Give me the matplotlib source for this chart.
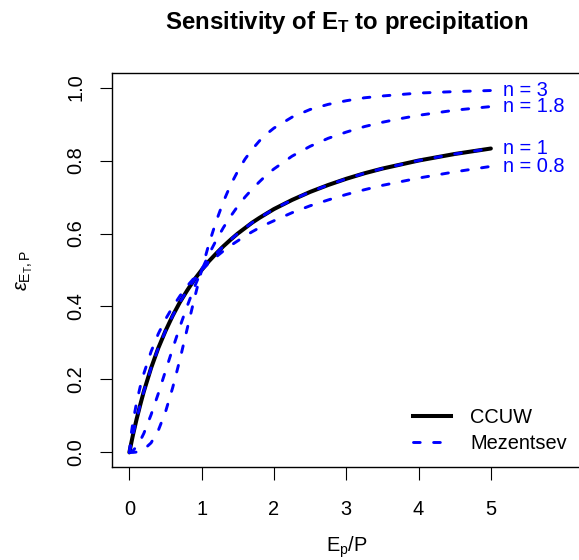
import matplotlib
matplotlib.use("Agg")
import matplotlib.pyplot as plt
from matplotlib.lines import Line2D

plt.rcParams['font.family'] = ['Liberation Sans', 'DejaVu Sans']
plt.rcParams['mathtext.fontset'] = 'custom'
plt.rcParams['mathtext.rm'] = 'Liberation Sans'
plt.rcParams['mathtext.it'] = 'Liberation Sans:italic'
plt.rcParams['mathtext.bf'] = 'Liberation Sans:bold'

# ---------------------------
# DATA
# ---------------------------

ep_p = [0, 0.025, 0.05, 0.1, 0.15, 0.2, 0.3, 0.4, 0.5, 0.6, 0.7, 0.8, 0.9,
        1.0, 1.1, 1.2, 1.3, 1.4, 1.5, 1.6, 1.7, 1.8, 1.9, 2, 2.25, 2.5,
        2.75, 3, 3.25, 3.5, 3.75, 4, 4.5, 5]

eps_ccuw = [0, 0.024, 0.048, 0.091, 0.130, 0.167, 0.231, 0.286, 0.333, 0.375,
            0.412, 0.444, 0.474, 0.500, 0.524, 0.545, 0.565, 0.583, 0.600,
            0.615, 0.630, 0.643, 0.655, 0.667, 0.692, 0.714, 0.733, 0.750,
            0.765, 0.778, 0.789, 0.800, 0.818, 0.833]

eps_n08 = [0, 0.050, 0.083, 0.137, 0.180, 0.216, 0.276, 0.325, 0.365, 0.399,
           0.429, 0.456, 0.479, 0.500, 0.519, 0.536, 0.552, 0.567, 0.580,
           0.593, 0.605, 0.616, 0.626, 0.635, 0.657, 0.676, 0.692, 0.707,
           0.720, 0.732, 0.742, 0.752, 0.769, 0.784]

eps_n1 = [0, 0.024, 0.048, 0.091, 0.130, 0.167, 0.231, 0.286, 0.333, 0.375,
          0.412, 0.444, 0.474, 0.500, 0.524, 0.545, 0.565, 0.583, 0.600,
          0.615, 0.630, 0.643, 0.655, 0.667, 0.692, 0.714, 0.733, 0.750,
          0.765, 0.778, 0.789, 0.800, 0.818, 0.833]

eps_n18 = [0, 0.001, 0.005, 0.016, 0.032, 0.052, 0.103, 0.161, 0.223, 0.285,
           0.345, 0.401, 0.453, 0.500, 0.543, 0.581, 0.616, 0.647, 0.675,
           0.700, 0.722, 0.742, 0.761, 0.777, 0.812, 0.839, 0.861, 0.878,
           0.893, 0.905, 0.915, 0.924, 0.938, 0.948]

eps_n3 = [0, 0.000, 0.000, 0.001, 0.003, 0.008, 0.026, 0.060, 0.111, 0.178,
          0.255, 0.339, 0.422, 0.500, 0.571, 0.633, 0.687, 0.733, 0.771,
          0.804, 0.831, 0.854, 0.873, 0.889, 0.919, 0.940, 0.954, 0.964,
          0.972, 0.977, 0.981, 0.985, 0.989, 0.992]

mezentsev = [eps_n08, eps_n1, eps_n18, eps_n3]
n_labels = ["n = 0.8", "n = 1", "n = 1.8", "n = 3"]

x_ticks = [0, 1, 2, 3, 4, 5]
y_ticks = [0.0, 0.2, 0.4, 0.6, 0.8, 1.0]

# ---------------------------
# PLOT
# ---------------------------

W, H = 579, 560
FS = 14.4
fig = plt.figure(figsize=(W / 100, H / 100), dpi=100)
ax = fig.add_axes([112 / W, 1 - 467 / H, (580.5 - 112) / W, (467 - 73) / H])

blue = "#0000FF"
dash = (0, (2.3, 4.6))

ax.plot(ep_p, eps_ccuw, color="black", lw=2.9, solid_capstyle="round",
        solid_joinstyle="round", zorder=2)
for vals in mezentsev:
    ax.plot(ep_p, vals, color=blue, lw=2.1, linestyle=dash,
            dash_capstyle="round", dash_joinstyle="round", zorder=3)

# curve labels at the right-hand end
for vals, lab in zip(mezentsev, n_labels):
    ax.annotate(lab, xy=(ep_p[-1], vals[-1]), xytext=(9, 0),
                textcoords="offset points", color=blue, fontsize=FS,
                ha="left", va="center")

ax.set_xlim(-0.24, 6.24)
ax.set_ylim(-0.04, 1.04)
ax.set_xticks(x_ticks)
ax.set_xticklabels([str(t) for t in x_ticks])
ax.set_yticks(y_ticks)
ax.set_yticklabels(["%.1f" % t for t in y_ticks])
ax.tick_params(length=9, width=0.8, labelsize=FS, direction="out")
ax.tick_params(axis="x", pad=14.5)
ax.tick_params(axis="y", pad=10)
for lab in ax.get_yticklabels():
    lab.set_rotation(90)
    lab.set_va("center")
for sp in ax.spines.values():
    sp.set_linewidth(1.0)

handles = [Line2D([], [], color="black", lw=2.9),
           Line2D([], [], color=blue, lw=2.1, linestyle=dash, dash_capstyle="round")]
ax.legend(handles, ["CCUW", "Mezentsev"], loc="upper left",
          bbox_to_anchor=(413 / W, 1 - 408 / H), bbox_transform=fig.transFigure,
          frameon=False, fontsize=FS, handlelength=1.9, handletextpad=0.95,
          borderpad=0, borderaxespad=0, labelspacing=0.33)

fig.text(347 / W, 1 - 28.5 / H, r"Sensitivity of E$_\mathbf{T}$ to precipitation",
         fontsize=17.3, fontweight="bold", ha="center", va="baseline")
fig.text(347 / W, 1 - 551.5 / H, r"$\mathrm{E_p/P}$", fontsize=FS,
         ha="center", va="baseline")
fig.text(25 / W, 1 - 270 / H, r"$\varepsilon_{\mathrm{E_T,P}}$", fontsize=FS,
         rotation=90, ha="center", va="center")

fig.savefig("out.png", dpi=100)
